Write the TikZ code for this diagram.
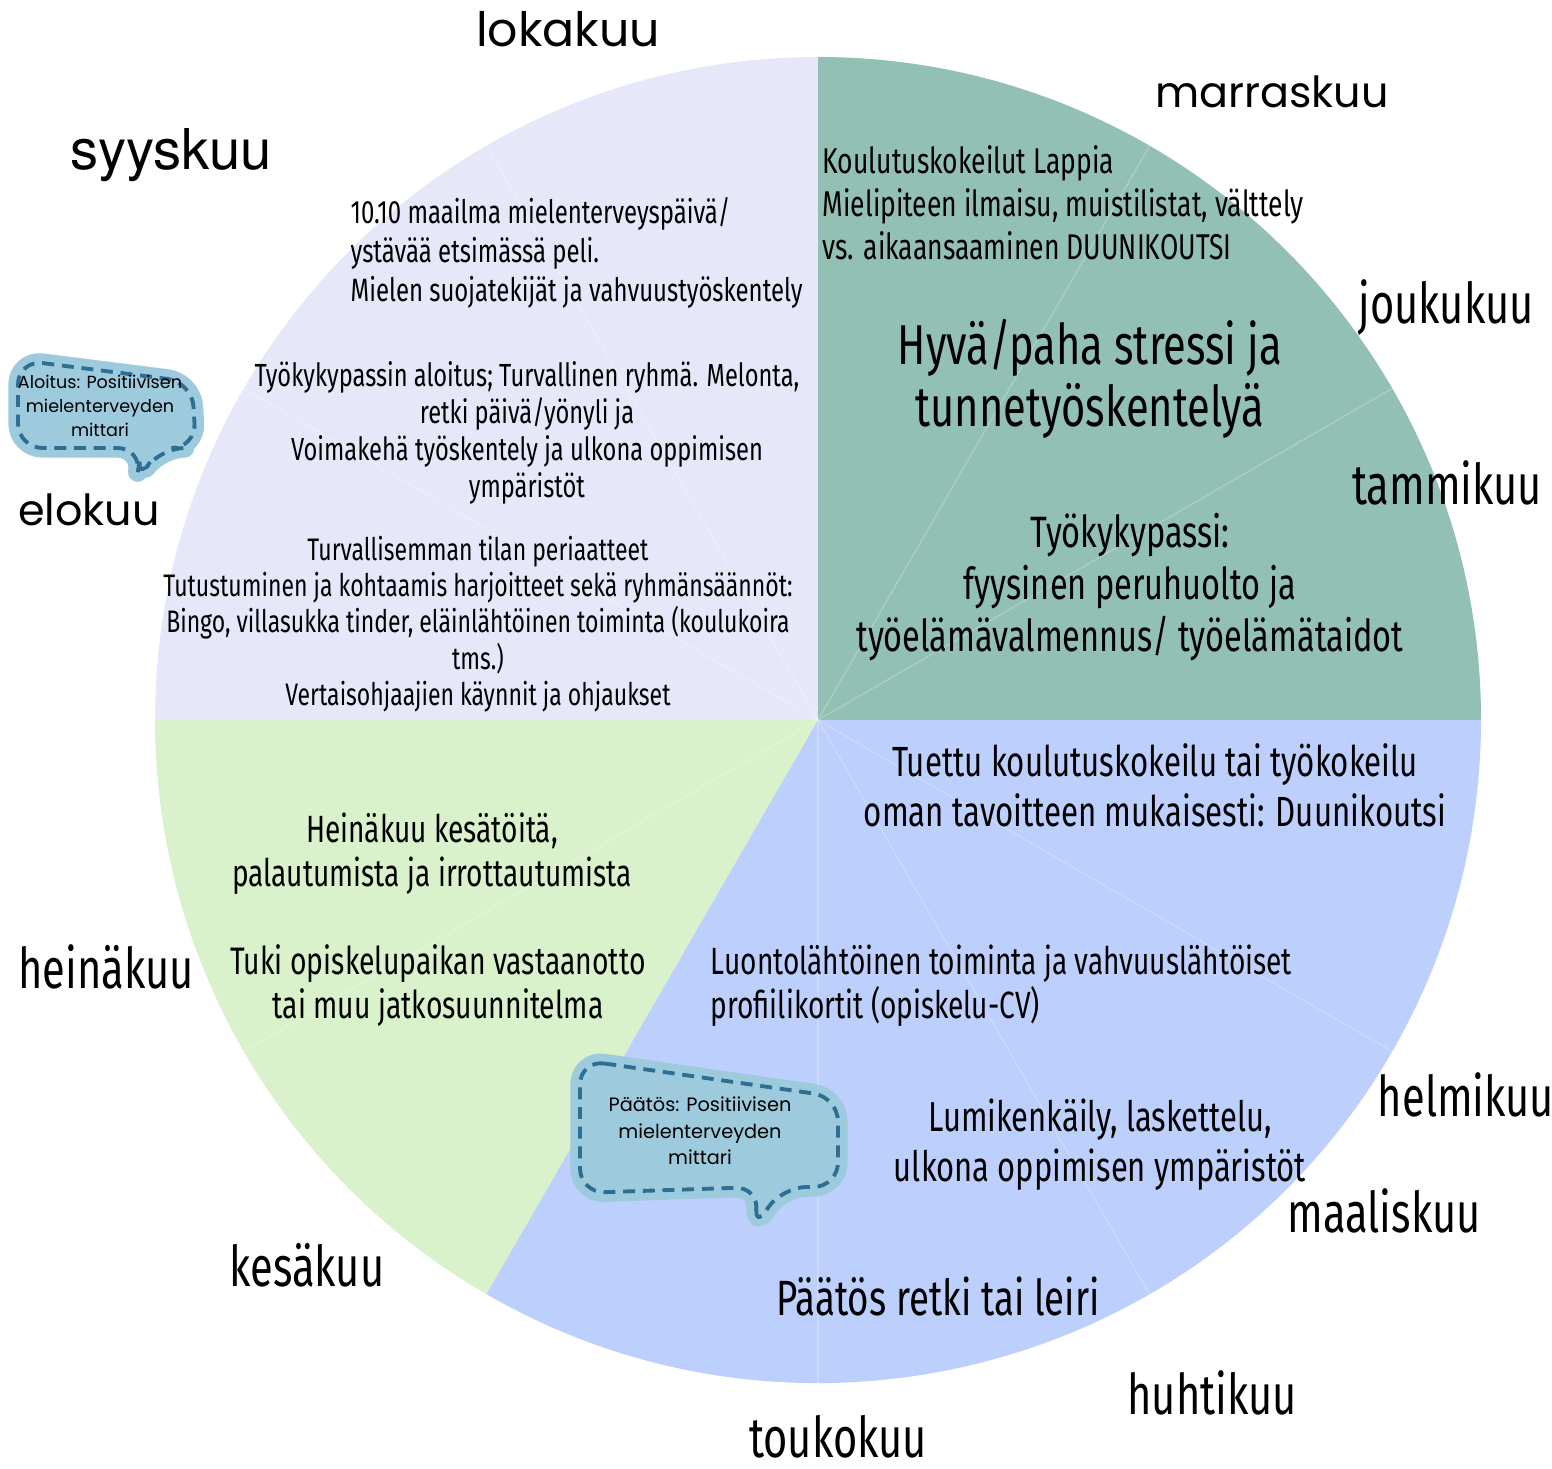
\documentclass[tikz,border=0pt]{standalone}
\usepackage{fontspec}
\setmainfont{Fira Sans}
\newfontfamily\condfont[FakeStretch=0.74]{Fira Sans}
\newfontfamily\popfont{Poppins}
\newfontfamily\herosfont{TeX Gyre Heros}
\usetikzlibrary{positioning}
\definecolor{lavender}{HTML}{E6E8FA}
\definecolor{tealgreen}{HTML}{93C0B4}
\definecolor{palegreen}{HTML}{D9F2CB}
\definecolor{softblue}{HTML}{BDCFFD}
\definecolor{bubblefill}{HTML}{9DCBDD}
\definecolor{bubbleline}{HTML}{2E6E92}

\begin{document}
\begin{tikzpicture}[x=0.1mm,y=0.1mm,
 monthpop/.style={inner sep=0pt,font=\popfont\fontsize{12.2}{15}\selectfont},
 monthcond/.style={inner sep=0pt,font=\condfont\fontsize{16}{19}\selectfont},
 sectortxt/.style={inner sep=0pt,align=center},
 bubbleshape/.style={fill=bubblefill,draw=bubblefill,line width=5.5pt,line join=round,rounded corners=7pt},
 bubbledash/.style={draw=bubbleline,line width=1.1pt,dash pattern=on 3.4pt off 2.2pt,rounded corners=7pt},
 bubbletxt/.style={inner sep=0pt,align=center,font=\popfont\fontsize{5}{6.8}\selectfont},
 sep/.style={white,opacity=.22,line width=.4pt}]
\fill[white] (0,0) rectangle (1552,1468);
\useasboundingbox (0,0) rectangle (1552,1468);
\coordinate (c) at (818,748);
\fill[lavender] (c) -- ++(90:663) arc[start angle=90,end angle=180,radius=663] -- cycle;
\fill[tealgreen] (c) -- ++(0:663) arc[start angle=0,end angle=90,radius=663] -- cycle;
\fill[palegreen] (c) -- ++(180:663) arc[start angle=180,end angle=240,radius=663] -- cycle;
\fill[softblue] (c) -- ++(240:663) arc[start angle=240,end angle=360,radius=663] -- cycle;
\foreach \a in {30,60,120,150,210,270,300,330}
  \draw[sep] (c) -- ++(\a:663);

\node[monthpop,font=\popfont\fontsize{13.5}{16}\selectfont] (loka) at (568,1439) {lokakuu};
\node[monthpop] (marras) at (1272,1376) {marraskuu};
\node[inner sep=0pt,font=\herosfont\fontsize{16}{19}\selectfont] (syys) at (171,1313) {syyskuu};
\node[monthpop] (elo) at (89,958) {elokuu};
\node[monthcond] (joulu) at (1446,1160) {joukukuu};
\node[monthcond] (tammi) at (1447,985) {tammikuu};
\node[monthcond] (helmi) at (1466,373) {helmikuu};
\node[monthcond] (maalis) at (1384,257) {maaliskuu};
\node[monthcond] (huhti) at (1212,75) {huhtikuu};
\node[monthcond,anchor=base] (touko) at (838,11) {toukokuu};
\node[monthcond] (kesa) at (307,203) {kesäkuu};
\node[monthcond] (heina) at (106,501) {heinäkuu};

\node[sectortxt,align=left,anchor=west,font=\condfont\fontsize{10.2}{12.2}\selectfont] (koulutus) at (822,1265)
 {Koulutuskokeilut Lappia\\Mielipiteen ilmaisu, muistilistat, välttely\\vs. aikaansaaminen DUUNIKOUTSI};
\node[sectortxt,font=\condfont\fontsize{16}{17.6}\selectfont] (stressi) at (1090,1089)
 {Hyvä/paha stressi ja\\tunnetyöskentelyä};
\node[sectortxt,font=\condfont\fontsize{12.5}{14.8}\selectfont] (passi) at (1130,881)
 {Työkykypassi:\\fyysinen peruhuolto ja\\työelämävalmennus/ työelämätaidot};
\node[sectortxt,align=left,anchor=west,font=\condfont\fontsize{9.2}{11}\selectfont] (mieli) at (350,1215)
 {10.10 maailma mielenterveyspäivä/\\ystävää etsimässä peli.\\Mielen suojatekijät ja vahvuustyöskentely};
\node[sectortxt,font=\condfont\fontsize{9.1}{10.5}\selectfont] (aloitus) at (527,1035)
 {Työkykypassin aloitus; Turvallinen ryhmä. Melonta,\\retki päivä/yönyli ja\\Voimakehä työskentely ja ulkona oppimisen\\ympäristöt};
\node[sectortxt,font=\condfont\fontsize{8.85}{10.3}\selectfont] (tila) at (478,844)
 {Turvallisemman tilan periaatteet\\Tutustuminen ja kohtaamis harjoitteet sekä ryhmänsäännöt:\\Bingo, villasukka tinder, eläinlähtöinen toiminta (koulukoira\\tms.)\\Vertaisohjaajien käynnit ja ohjaukset};
\node[sectortxt,font=\condfont\fontsize{10.8}{12.5}\selectfont] (kesatyo) at (432,614)
 {Heinäkuu kesätöitä,\\palautumista ja irrottautumista};
\node[sectortxt,font=\condfont\fontsize{10.9}{12.5}\selectfont] (tuki) at (438,482)
 {Tuki opiskelupaikan vastaanotto\\tai muu jatkosuunnitelma};
\node[sectortxt,font=\condfont\fontsize{12}{14.2}\selectfont] (tuettu) at (1155,683)
 {Tuettu koulutuskokeilu tai työkokeilu\\oman tavoitteen mukaisesti: Duunikoutsi};
\node[sectortxt,align=left,anchor=west,font=\condfont\fontsize{10.8}{12.5}\selectfont] (luonto) at (710,482)
 {Luontolähtöinen toiminta ja vahvuuslähtöiset\\profiilikortit (opiskelu-CV)};
\node[sectortxt,font=\condfont\fontsize{11.9}{14.2}\selectfont] (lumi) at (1100,323)
 {Lumikenkäily, laskettelu,\\ulkona oppimisen ympäristöt};
\node[sectortxt,font=\condfont\fontsize{14.1}{16}\selectfont] (leiri) at (938,172)
 {Päätös retki tai leiri};

\path[bubbleshape] (18,1108) -- (192,1086) -- (196,1020) -- (160,1020) -- (136,986) -- (142,1020) -- (18,1020) -- cycle;
\path[bubbledash] (18,1108) -- (192,1086) -- (196,1020) -- (160,1020) -- (136,986) -- (142,1020) -- (18,1020) -- cycle;
\node[bubbletxt] (mittari1) at (100,1062) {Aloitus: Positiivisen\\mielenterveyden\\mittari};

\path[bubbleshape] (580,408) -- (838,371) -- (838,281) -- (782,281) -- (753,238) -- (760,281) -- (580,275) -- cycle;
\path[bubbledash] (580,408) -- (838,371) -- (838,281) -- (782,281) -- (753,238) -- (760,281) -- (580,275) -- cycle;
\node[bubbletxt,font=\popfont\fontsize{5.5}{7.6}\selectfont] (mittari2) at (700,337) {Päätös: Positiivisen\\mielenterveyden\\mittari};
\end{tikzpicture}
\end{document}
